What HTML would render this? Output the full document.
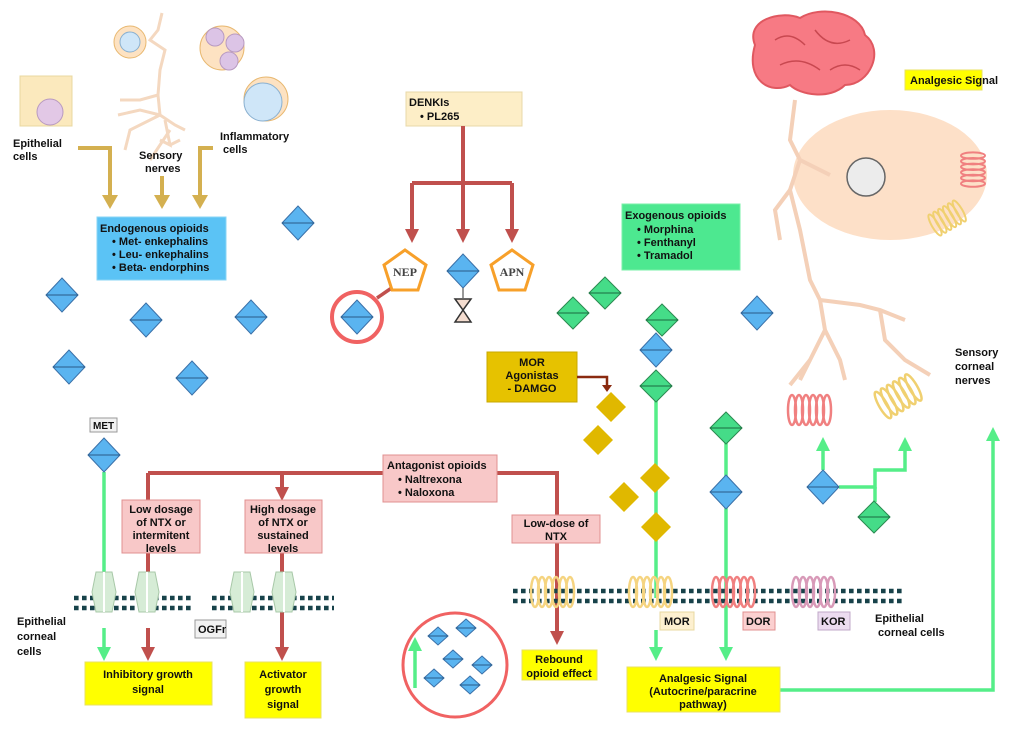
<!DOCTYPE html>
<html><head><meta charset="utf-8"><style>
body{margin:0;background:#fff}
svg{display:block}
text{font-family:"Liberation Sans",sans-serif;font-weight:bold;font-size:11px;fill:#111}
</style></head><body>
<svg width="1020" height="730" viewBox="0 0 1020 730" xmlns="http://www.w3.org/2000/svg">
<defs>
<g id="bd"><polygon points="0,-17 16,0 0,17 -16,0" fill="#5ab4f0" stroke="#3a70a8" stroke-width="1"/><line x1="-16" y1="0" x2="16" y2="0" stroke="#2a5a88"/></g>
<g id="gd"><polygon points="0,-16 16,0 0,16 -16,0" fill="#45dc88" stroke="#2a8a50" stroke-width="1"/><line x1="-16" y1="0" x2="16" y2="0" stroke="#1a6a40"/></g>
<polygon id="yd" points="0,-15 15,0 0,15 -15,0" fill="#e0b800"/>
<g id="sd"><polygon points="0,-9 10,0 0,9 -10,0" fill="#5ab4f0" stroke="#3a70a8"/><line x1="-10" y1="0" x2="10" y2="0" stroke="#2a5a88"/></g>
<g id="coil" fill="none" stroke-width="2.5">
<ellipse cx="0" cy="0" rx="4" ry="15"/><ellipse cx="7" cy="0" rx="4" ry="15"/><ellipse cx="14" cy="0" rx="4" ry="15"/><ellipse cx="21" cy="0" rx="4" ry="15"/><ellipse cx="28" cy="0" rx="4" ry="15"/><ellipse cx="35" cy="0" rx="4" ry="15"/></g>
<marker id="ag" markerWidth="16" markerHeight="16" refX="4" refY="8" orient="auto" markerUnits="userSpaceOnUse"><path d="M0,0 L14,8 L0,16z" fill="#d4b050"/></marker>
<marker id="ar" markerWidth="14" markerHeight="14" refX="4" refY="7" orient="auto" markerUnits="userSpaceOnUse"><path d="M0,0 L14,7 L0,14z" fill="#c0504d"/></marker>
<marker id="agr" markerWidth="14" markerHeight="14" refX="4" refY="7" orient="auto" markerUnits="userSpaceOnUse"><path d="M0,0 L14,7 L0,14z" fill="#55ee88"/></marker>
</defs>

<!-- top left cells -->
<rect x="20" y="76" width="52" height="50" fill="#fbe9bd" stroke="#e8d8a0"/>
<circle cx="50" cy="112" r="13" fill="#e2c8e6" stroke="#b89ac0"/>
<circle cx="130" cy="42" r="16" fill="#fde2c2" stroke="#e8b870"/>
<circle cx="130" cy="42" r="10" fill="#cfe6f8" stroke="#8ab0d0"/>
<circle cx="222" cy="48" r="22" fill="#fde2c2" stroke="#e8b870"/>
<circle cx="215" cy="37" r="9" fill="#dcc4e6" stroke="#b89ac0"/>
<circle cx="235" cy="43" r="9" fill="#dcc4e6" stroke="#b89ac0"/>
<circle cx="229" cy="61" r="9" fill="#dcc4e6" stroke="#b89ac0"/>
<circle cx="266" cy="99" r="22" fill="#fde2c2" stroke="#e8b870"/>
<circle cx="263" cy="102" r="19" fill="#cfe6f8" stroke="#8ab0d0"/>
<g stroke="#f4d8c0" stroke-width="3" fill="none">
<path d="M162,13 L158,30 L150,40 L165,50 L160,70 L158,95 L160,115 L140,110 L118,115"/>
<path d="M158,95 L140,100 L120,100"/><path d="M160,115 L130,130 L125,150"/><path d="M160,115 L175,125 L185,130"/><path d="M165,120 L170,145 L160,140"/><path d="M170,145 L180,140"/><path d="M170,130 L150,160"/>
</g>
<text x="13" y="147">Epithelial</text><text x="13" y="160">cells</text>
<text x="139" y="159">Sensory</text><text x="145" y="172">nerves</text>
<text x="220" y="140">Inflammatory</text><text x="223" y="153">cells</text>
<g stroke="#d4b050" stroke-width="4" fill="none">
<path d="M78,148 L110,148 L110,199" marker-end="url(#ag)"/>
<path d="M162,176 L162,199" marker-end="url(#ag)"/>
<path d="M213,148 L200,148 L200,199" marker-end="url(#ag)"/>
</g>
<rect x="97" y="217" width="129" height="63" fill="#5bc3f5" stroke="#8ad4f5"/>
<text x="100" y="232">Endogenous opioids</text>
<text x="112" y="245">•  Met- enkephalins</text>
<text x="112" y="258">•  Leu- enkephalins</text>
<text x="112" y="271">•  Beta- endorphins</text>
<use href="#bd" x="298" y="223"/><use href="#bd" x="62" y="295"/><use href="#bd" x="146" y="320"/><use href="#bd" x="251" y="317"/><use href="#bd" x="69" y="367"/><use href="#bd" x="192" y="378"/>

<!-- DENKIs -->
<rect x="406" y="92" width="116" height="34" fill="#fdeec7" stroke="#e8d8a8"/>
<text x="409" y="106">DENKIs</text><text x="420" y="120">•  PL265</text>
<g stroke="#c0504d" stroke-width="4" fill="none">
<path d="M463,126 L463,233" marker-end="url(#ar)"/>
<path d="M412,183 L512,183"/>
<path d="M412,183 L412,233" marker-end="url(#ar)"/>
<path d="M512,183 L512,233" marker-end="url(#ar)"/>
<path d="M377,298 L393,287" stroke-width="3.5"/>
</g>
<polygon points="405,250 426,265 418,290 392,290 384,265" fill="#fff" stroke="#f7a02a" stroke-width="3"/>
<text x="405" y="276" text-anchor="middle" style="font-family:'Liberation Serif',serif;font-size:12px;fill:#444">NEP</text>
<polygon points="512,250 533,265 525,290 499,290 491,265" fill="#fff" stroke="#f7a02a" stroke-width="3"/>
<text x="512" y="276" text-anchor="middle" style="font-family:'Liberation Serif',serif;font-size:12px;fill:#444">APN</text>
<use href="#bd" x="463" y="271"/>
<line x1="463" y1="288" x2="463" y2="298" stroke="#333"/>
<path d="M455,299 L471,299 L463,310 L471,322 L455,322 L463,310z" fill="#f4ddd0" stroke="#333" stroke-width="1.5"/>
<circle cx="357" cy="317" r="25" fill="none" stroke="#f06262" stroke-width="4"/>
<use href="#bd" x="357" y="317"/>

<!-- exogenous -->
<rect x="622" y="204" width="118" height="66" fill="#4de890" stroke="#7af0a8"/>
<text x="625" y="219">Exogenous opioids</text>
<text x="637" y="233">•  Morphina</text><text x="637" y="246">•  Fenthanyl</text><text x="637" y="259">•  Tramadol</text>
<use href="#gd" x="573" y="313"/><use href="#gd" x="605" y="293"/><use href="#gd" x="662" y="320"/>
<use href="#bd" x="757" y="313"/>
<g stroke="#55ee88" stroke-width="3.5" fill="none">
<path d="M656,395 L656,598"/>
<path d="M656,630 L656,651" marker-end="url(#agr)"/>
<path d="M726,440 L726,651" marker-end="url(#agr)"/>
<path d="M104,472 L104,600"/>
<path d="M104,628 L104,651" marker-end="url(#agr)"/>
<path d="M780,690 L993,690 L993,437" marker-end="url(#agr)"/>
<path d="M823,470 L823,447" marker-end="url(#agr)"/>
<path d="M839,487 L875,487 L875,470 L905,470 L905,447" marker-end="url(#agr)"/>
<path d="M875,487 L875,502"/>
<path d="M415,688 L415,647" marker-end="url(#agr)"/>
</g>
<use href="#bd" x="656" y="350"/><use href="#gd" x="656" y="386"/>
<use href="#yd" x="611" y="407"/><use href="#yd" x="598" y="440"/><use href="#yd" x="655" y="478"/><use href="#yd" x="624" y="497"/><use href="#yd" x="656" y="527"/>
<use href="#gd" x="726" y="428"/><use href="#bd" x="726" y="492"/>
<use href="#bd" x="823" y="487"/><use href="#gd" x="874" y="517"/>
<rect x="487" y="352" width="90" height="50" fill="#e6c200" stroke="#c8a800"/>
<text x="532" y="366" text-anchor="middle">MOR</text><text x="532" y="379" text-anchor="middle">Agonistas</text><text x="532" y="392" text-anchor="middle">- DAMGO</text>
<path d="M577,377 L607,377 L607,388" stroke="#8a2a10" stroke-width="2.5" fill="none"/>
<path d="M602,385 L612,385 L607,392z" fill="#8a2a10"/>

<!-- antagonist -->
<g stroke="#c0504d" stroke-width="4" fill="none">
<path d="M148,473 L383,473"/><path d="M148,473 L148,500"/>
<path d="M282,473 L282,491" marker-end="url(#ar)"/>
<path d="M497,473 L557,473 L557,515"/>
<path d="M557,543 L557,635" marker-end="url(#ar)"/>
<path d="M148,553 L148,575"/>
<path d="M148,628 L148,651" marker-end="url(#ar)"/>
<path d="M282,553 L282,651" marker-end="url(#ar)"/>
</g>
<rect x="383" y="455" width="114" height="47" fill="#f8c8c8" stroke="#e09090"/>
<text x="387" y="469">Antagonist opioids</text><text x="398" y="483">•  Naltrexona</text><text x="398" y="496">•  Naloxona</text>
<rect x="122" y="500" width="78" height="53" fill="#f8c8c8" stroke="#e09090"/>
<text x="161" y="513" text-anchor="middle">Low dosage</text><text x="161" y="526" text-anchor="middle">of NTX or</text><text x="161" y="539" text-anchor="middle">intermitent</text><text x="161" y="552" text-anchor="middle">levels</text>
<rect x="245" y="500" width="77" height="53" fill="#f8c8c8" stroke="#e09090"/>
<text x="283" y="513" text-anchor="middle">High dosage</text><text x="283" y="526" text-anchor="middle">of NTX or</text><text x="283" y="539" text-anchor="middle">sustained</text><text x="283" y="552" text-anchor="middle">levels</text>
<rect x="512" y="515" width="88" height="28" fill="#f8c8c8" stroke="#e09090"/>
<text x="556" y="527" text-anchor="middle">Low-dose of</text><text x="556" y="540" text-anchor="middle">NTX</text>

<!-- MET / OGFr -->
<rect x="90" y="418" width="27" height="14" fill="#f2f2f2" stroke="#999"/>
<text x="93" y="429" style="font-size:10px">MET</text>
<use href="#bd" x="104" y="455"/>
<path d="M74,598h120M74,608h120M212,598h122M212,608h122" stroke="#17424a" stroke-width="4.6" stroke-dasharray="4.6,3.4" fill="none"/>
<path d="M513,591h392M513,601h392" stroke="#17424a" stroke-width="4.6" stroke-dasharray="4.6,3.4" fill="none"/>
<g fill="#d6ecd6" stroke="#a8c8a8" stroke-width="1">
<path d="M96,572 L112,572 L116,592 L112,612 L96,612 L92,592z"/>
<path d="M139,572 L155,572 L159,592 L155,612 L139,612 L135,592z"/>
<path d="M234,572 L250,572 L254,592 L250,612 L234,612 L230,592z"/>
<path d="M276,572 L292,572 L296,592 L292,612 L276,612 L272,592z"/>
</g>
<g stroke="#fff" stroke-width="2"><line x1="104" y1="572" x2="104" y2="612"/><line x1="147" y1="572" x2="147" y2="612"/><line x1="242" y1="572" x2="242" y2="612"/><line x1="284" y1="572" x2="284" y2="612"/></g>
<rect x="195" y="620" width="31" height="18" fill="#f2f2f2" stroke="#999"/>
<text x="198" y="633">OGFr</text>
<text x="17" y="625">Epithelial</text><text x="17" y="640">corneal</text><text x="17" y="655">cells</text>
<rect x="85" y="662" width="127" height="43" fill="#ffff00" stroke="#e8e060"/>
<text x="148" y="678" text-anchor="middle">Inhibitory growth</text><text x="148" y="693" text-anchor="middle">signal</text>
<rect x="245" y="662" width="76" height="56" fill="#ffff00" stroke="#e8e060"/>
<text x="283" y="678" text-anchor="middle">Activator</text><text x="283" y="693" text-anchor="middle">growth</text><text x="283" y="708" text-anchor="middle">signal</text>
<rect x="522" y="650" width="75" height="30" fill="#ffff00" stroke="#e8e060"/>
<text x="559" y="663" text-anchor="middle">Rebound</text><text x="559" y="677" text-anchor="middle">opioid effect</text>

<circle cx="455" cy="665" r="52" fill="none" stroke="#f06262" stroke-width="3"/>
<use href="#sd" x="438" y="636"/><use href="#sd" x="466" y="628"/><use href="#sd" x="453" y="659"/><use href="#sd" x="482" y="665"/><use href="#sd" x="434" y="678"/><use href="#sd" x="470" y="685"/>

<!-- receptors on membrane -->
<use href="#coil" x="535" y="592" stroke="#f5d480"/>
<use href="#coil" x="633" y="592" stroke="#f5d480"/>
<use href="#coil" x="716" y="592" stroke="#f08080"/>
<use href="#coil" x="796" y="592" stroke="#d89ab8"/>
<rect x="660" y="612" width="34" height="18" fill="#fdf0d0" stroke="#e8d8a0"/><text x="664" y="625">MOR</text>
<rect x="743" y="612" width="32" height="18" fill="#fbd0d0" stroke="#e09090"/><text x="746" y="625">DOR</text>
<rect x="818" y="612" width="32" height="18" fill="#ecdcf0" stroke="#c0a8c8"/><text x="821" y="625">KOR</text>
<text x="875" y="622">Epithelial</text><text x="878" y="636">corneal cells</text>
<rect x="627" y="667" width="153" height="45" fill="#ffff00" stroke="#e8e060"/>
<text x="703" y="682" text-anchor="middle">Analgesic Signal</text><text x="703" y="695" text-anchor="middle">(Autocrine/paracrine</text><text x="703" y="708" text-anchor="middle">pathway)</text>

<!-- right top -->
<ellipse cx="890" cy="175" rx="97" ry="65" fill="#fde0c8"/>
<circle cx="866" cy="177" r="19" fill="#ececec" stroke="#666" stroke-width="1.5"/>
<g stroke="#f4d0b8" stroke-width="4" fill="none">
<path d="M795,100 L790,140 L800,160 L790,190 L800,230 L810,280 L820,300 L825,330 L810,360 L800,380"/>
<path d="M800,160 L830,175"/><path d="M790,190 L775,210 L780,240"/>
<path d="M820,300 L860,305 L880,310 L905,320"/><path d="M880,310 L885,340 L905,360 L930,375"/>
<path d="M825,330 L840,360 L845,380"/><path d="M810,360 L790,385"/>
</g>
<path d="M755,45 C745,20 780,10 800,18 C820,5 860,12 865,35 C885,50 870,85 845,85 C830,100 800,95 790,85 C770,95 745,80 755,45z" fill="#f77a84" stroke="#e05860" stroke-width="2"/>
<g stroke="#c84850" stroke-width="1.5" fill="none"><path d="M775,40 Q790,30 805,45"/><path d="M815,30 Q830,50 850,40"/><path d="M780,65 Q800,55 820,70"/><path d="M830,70 Q845,60 860,70"/></g>
<g transform="translate(973,170) rotate(90)"><use href="#coil" x="-18" y="0" stroke="#f08080" transform="scale(0.8)"/></g>
<g transform="translate(935,225) rotate(-30)"><use href="#coil" x="0" y="0" stroke="#f0d070" transform="scale(0.8)"/></g>
<use href="#coil" x="792" y="410" stroke="#f08080"/>
<g transform="translate(883,405) rotate(-30)"><use href="#coil" x="0" y="0" stroke="#f0d070"/></g>
<text x="955" y="356">Sensory</text><text x="955" y="370">corneal</text><text x="955" y="384">nerves</text>
<rect x="905" y="70" width="77" height="20" fill="#ffff00" stroke="#e8e060"/>
<text x="910" y="84">Analgesic Signal</text>
</svg>
</body></html>
